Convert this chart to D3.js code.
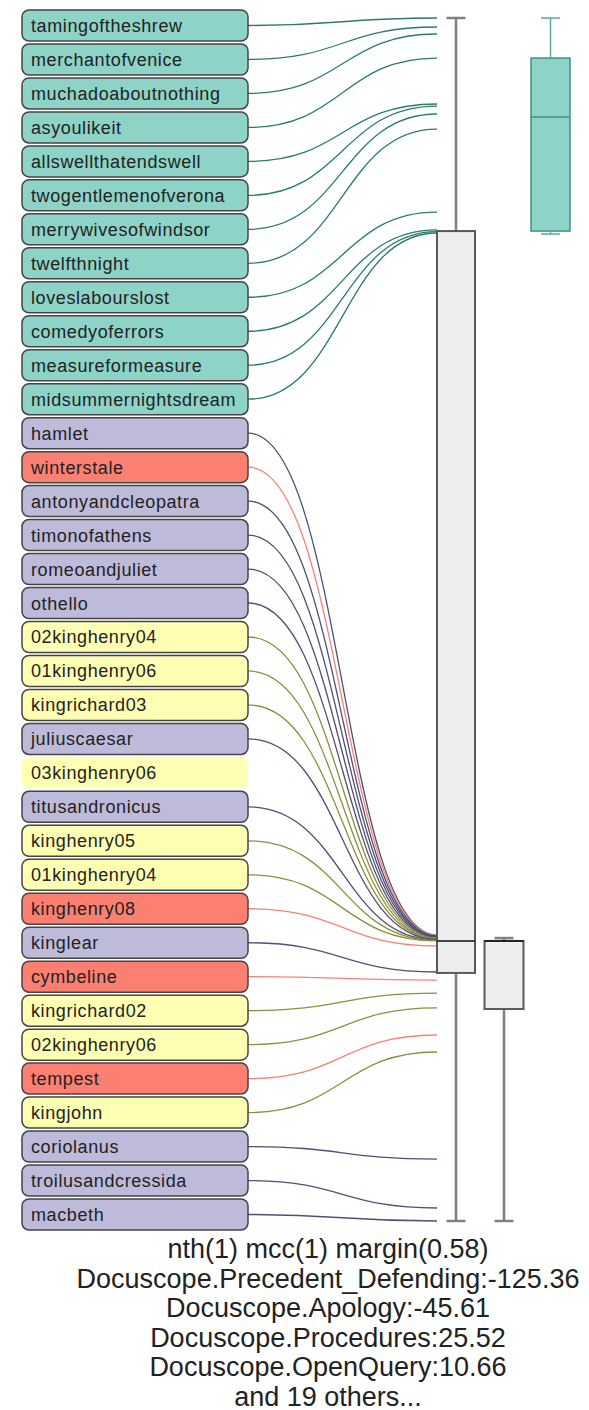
<!DOCTYPE html>
<html lang="en">
<head>
  <meta charset="utf-8">
  <title>Play scores</title>
  <script src="https://d3js.org/d3.v7.min.js"></script>
  <style>
    body { margin: 0; background: #fff; }
    svg { display: block; }
  </style>
</head>
<body>
  <script>

    // plays in drawing order, their genre and the score the curve points at
    var plays = ["tamingoftheshrew", "merchantofvenice", "muchadoaboutnothing", "asyoulikeit",
      "allswellthatendswell", "twogentlemenofverona", "merrywivesofwindsor", "twelfthnight",
      "loveslabourslost", "comedyoferrors", "measureformeasure", "midsummernightsdream",
      "hamlet", "winterstale", "antonyandcleopatra", "timonofathens", "romeoandjuliet", "othello",
      "02kinghenry04", "01kinghenry06", "kingrichard03", "juliuscaesar", "03kinghenry06",
      "titusandronicus", "kinghenry05", "01kinghenry04", "kinghenry08", "kinglear", "cymbeline",
      "kingrichard02", "02kinghenry06", "tempest", "kingjohn", "coriolanus", "troilusandcressida",
      "macbeth"];

    var genres = ["comedy", "comedy", "comedy", "comedy", "comedy", "comedy", "comedy", "comedy",
      "comedy", "comedy", "comedy", "comedy",
      "tragedy", "romance", "tragedy", "tragedy", "tragedy", "tragedy",
      "history", "history", "history", "tragedy", "history",
      "tragedy", "history", "history", "romance", "tragedy", "romance",
      "history", "history", "romance", "history", "tragedy", "tragedy",
      "tragedy"];

    var scores = [100, 99.25, 98.67, 96.67, 92.85, 92.68, 92.02, 90.77, 83.87, 82.38, 82.25, 82.13,
      23.77, 23.73, 23.69, 23.65, 23.61, 23.57, 23.52, 23.48, 23.44, 23.40, null,
      23.36, 23.32, 23.28, 22.86, 20.70, 20.03, 18.95, 17.71, 15.46, 14.05, 5.15, 1.08, 0];

    // box plots: [min, q1, median, q3, max]
    var boxAll = [0, 20.62, 23.28, 82.29, 100];
    var boxOther = [0, 17.62, 23.28, 23.28, 23.52];
    var boxComedy = [82.04, 82.29, 91.77, 96.67, 100];

    var captionLines = ["nth(1) mcc(1) margin(0.58)",
      "Docuscope.Precedent_Defending:-125.36",
      "Docuscope.Apology:-45.61",
      "Docuscope.Procedures:25.52",
      "Docuscope.OpenQuery:10.66",
      "and 19 others..."];

    var w = 589, h = 1410;

    var fillColour = {comedy: "#8dd3c7", tragedy: "#bebada", history: "#ffffb3", romance: "#fb8072"};
    var lineColour = {comedy: "#2b7b6c", tragedy: "#4f4f78", history: "#8e8e3c", romance: "#fb8072"};

    var svg = d3.select("body").append("svg")
      .attr("width", w)
      .attr("height", h);

    var y = d3.scaleLinear().domain([0, 100]).range([1221, 18]);
    var rowY = d3.scalePoint().domain(plays).range([25.5, 1214.5]);

    var labelLeft = 22, labelWidth = 226, labelHeight = 31;
    var linkEnd = 437;

    var rows = plays.map(function(p, i) {
      return {name: p, genre: genres[i], score: scores[i]};
    });

    // curves from each label to its score
    var link = d3.linkHorizontal();
    svg.append("g").selectAll("path")
      .data(rows.filter(function(d) { return d.score !== null; }))
      .join("path")
        .attr("d", function(d) {
          return link({source: [labelLeft + labelWidth, rowY(d.name)], target: [linkEnd, y(d.score)]});
        })
        .attr("fill", "none")
        .attr("stroke", function(d) { return lineColour[d.genre]; })
        .attr("stroke-width", 1.3);

    // labels
    var lab = svg.append("g").selectAll("g")
      .data(rows)
      .join("g")
        .attr("transform", function(d) { return "translate(" + labelLeft + "," + (rowY(d.name) - labelHeight / 2) + ")"; });

    lab.append("rect")
      .attr("width", labelWidth)
      .attr("height", labelHeight)
      .attr("rx", 7)
      .attr("fill", function(d) { return fillColour[d.genre]; })
      .attr("stroke", function(d) { return d.score === null ? "none" : "#444"; })
      .attr("stroke-width", 1.5);

    lab.append("text")
      .attr("x", 9)
      .attr("y", labelHeight / 2 + 6.5)
      .attr("font-family", "Arial, 'Liberation Sans', sans-serif")
      .attr("font-size", 18)
      .attr("letter-spacing", 0.6)
      .attr("fill", "#222")
      .text(function(d) { return d.name; });

    // box plot helper
    function drawBox(stats, cx, bw, opts) {
      var g = svg.append("g");
      var capW = 19;
      g.append("line")
        .attr("x1", cx).attr("x2", cx)
        .attr("y1", y(stats[4])).attr("y2", y(stats[0]))
        .attr("stroke", opts.whisker).attr("stroke-width", opts.whiskerWidth);
      [stats[0], stats[4]].forEach(function(v) {
        g.append("line")
          .attr("x1", cx - capW / 2).attr("x2", cx + capW / 2)
          .attr("y1", y(v)).attr("y2", y(v))
          .attr("stroke", opts.whisker).attr("stroke-width", opts.whiskerWidth);
      });
      g.append("rect")
        .attr("x", cx - bw / 2)
        .attr("y", y(stats[3]))
        .attr("width", bw)
        .attr("height", y(stats[1]) - y(stats[3]))
        .attr("fill", opts.fill)
        .attr("stroke", opts.stroke)
        .attr("stroke-width", opts.strokeWidth);
      g.append("line")
        .attr("x1", cx - bw / 2).attr("x2", cx + bw / 2)
        .attr("y1", y(stats[2])).attr("y2", y(stats[2]))
        .attr("stroke", opts.median).attr("stroke-width", 1.5);
    }

    var greyStyle = {whisker: "#808080", whiskerWidth: 2.5, fill: "#eeeeee", stroke: "#5a5a5a", strokeWidth: 2, median: "#111"};
    drawBox(boxAll, 456, 38, greyStyle);
    drawBox(boxOther, 504, 39, greyStyle);
    drawBox(boxComedy, 550.5, 39, {whisker: "#5ba999", whiskerWidth: 1.5, fill: "#8dd3c7", stroke: "#3f9383", strokeWidth: 1.5, median: "#3f9383"});

    // caption
    svg.append("g").selectAll("text")
      .data(captionLines)
      .join("text")
        .attr("x", 328)
        .attr("y", function(d, i) { return 1258 + i * 29.6; })
        .attr("text-anchor", "middle")
        .attr("font-family", "Arial, 'Liberation Sans', sans-serif")
        .attr("font-size", 27)
        .attr("fill", "#222")
        .text(function(d) { return d; });

  </script>
</body>
</html>
